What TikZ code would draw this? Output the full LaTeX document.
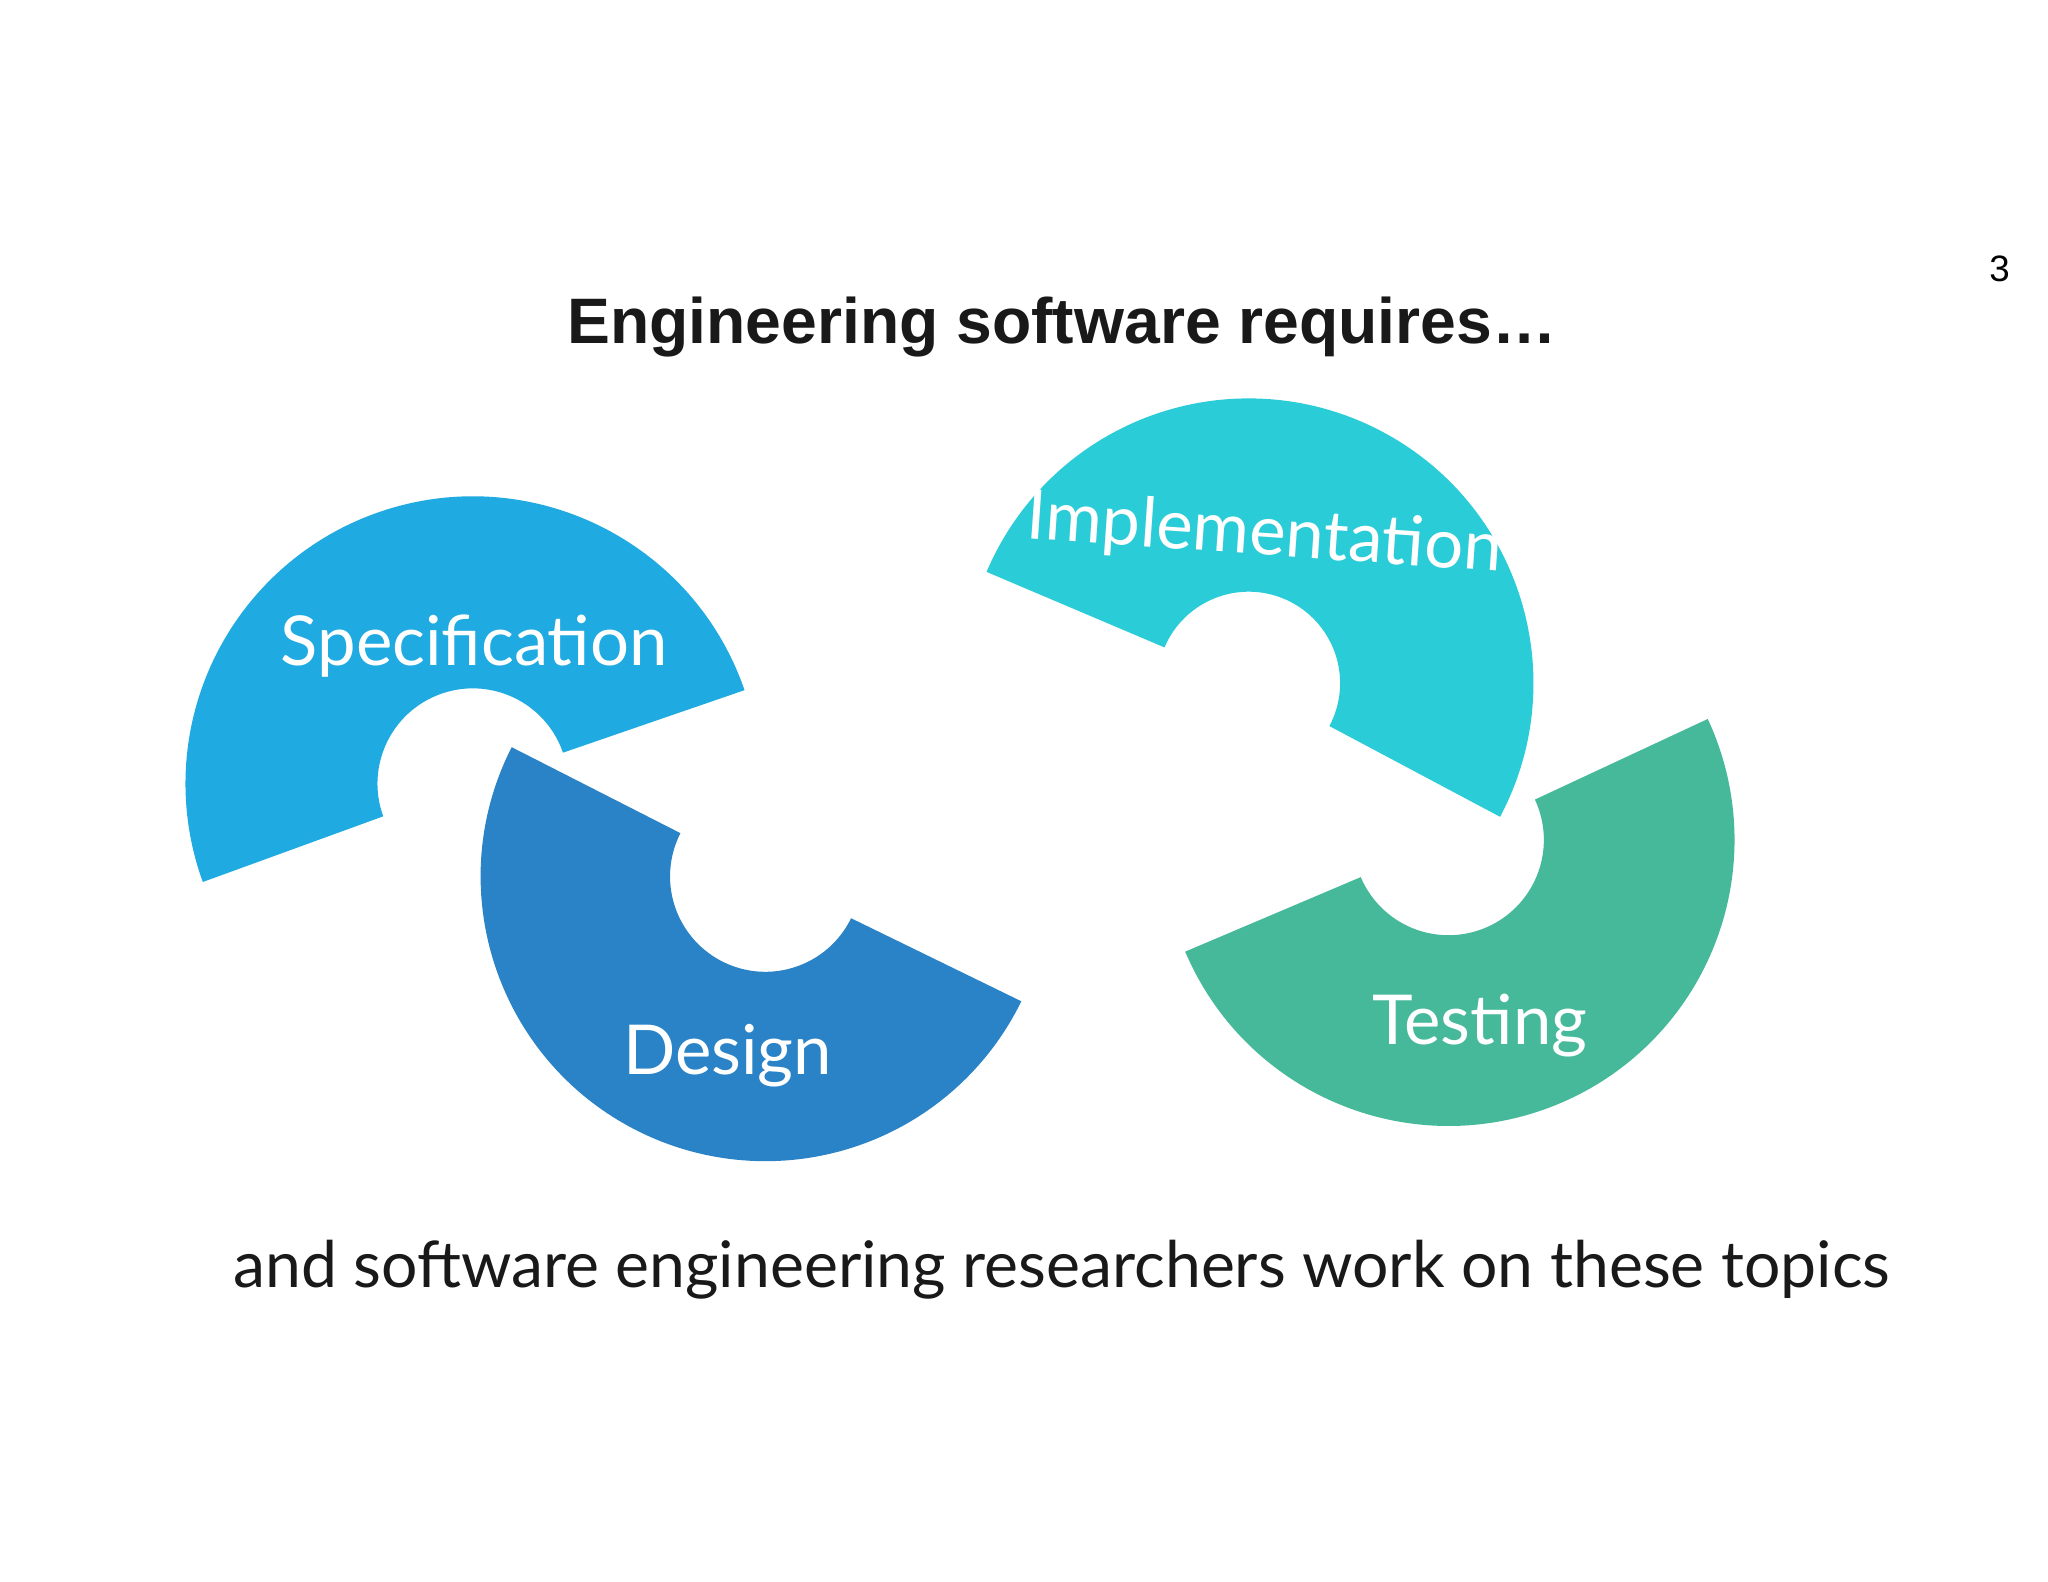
\documentclass[tikz,border=0pt]{standalone}
\usepackage{fontspec}
\setmainfont{Lato}
\newfontfamily\arialf{Liberation Sans}
\usetikzlibrary{calc}
\definecolor{cspec}{HTML}{1FAAE1}
\definecolor{cdes}{HTML}{2A83C6}
\definecolor{cimp}{HTML}{2ACCD8}
\definecolor{ctest}{HTML}{46B99A}
\tikzset{lbl/.style={text=white,font=\fontsize{15}{18}\selectfont,inner sep=0pt}}
\newcommand{\ringseg}[6]{% color, center, a1, a2, Ro, Ri
  \fill[#1] ($(#2)+(#3:#5)$) arc[start angle=#3,end angle=#4,radius=#5]
    -- ($(#2)+(#4:#6)$) arc[start angle=#4,end angle=#3,radius=#6] -- cycle;}
\begin{document}
\begin{tikzpicture}
\useasboundingbox[fill=white] (0,0) rectangle (15.68,-12.11);
\coordinate (cs) at (3.62,-6.00);
\coordinate (cd) at (5.86,-6.71);
\coordinate (ci) at (9.56,-5.23);
\coordinate (ct) at (11.09,-6.43);
\ringseg{cspec}{cs}{19}{200}{2.20}{0.73}
\ringseg{cdes}{cd}{153}{334}{2.18}{0.73}
\ringseg{cimp}{ci}{-28}{157}{2.18}{0.70}
\ringseg{ctest}{ct}{203}{385}{2.19}{0.73}
\node[lbl] (ls) at (3.63,-4.95) {Specification};
\node[lbl] (ld) at (5.57,-8.08) {Design};
\node[lbl,rotate=-4] (li) at (9.68,-4.10) {Implementation};
\node[lbl] (lt) at (11.33,-7.85) {Testing};
\node[font=\arialf\bfseries\fontsize{14}{17}\selectfont,text=black!90] (title) at (8.13,-2.50) {Engineering software requires\ldots};
\node[font=\arialf\fontsize{8}{10}\selectfont] (pg) at (15.31,-2.06) {3};
\node[font=\fontsize{14}{17}\selectfont,text=black!90] (bt) at (8.13,-9.72) {and software engineering researchers work on these topics};
\end{tikzpicture}
\end{document}
